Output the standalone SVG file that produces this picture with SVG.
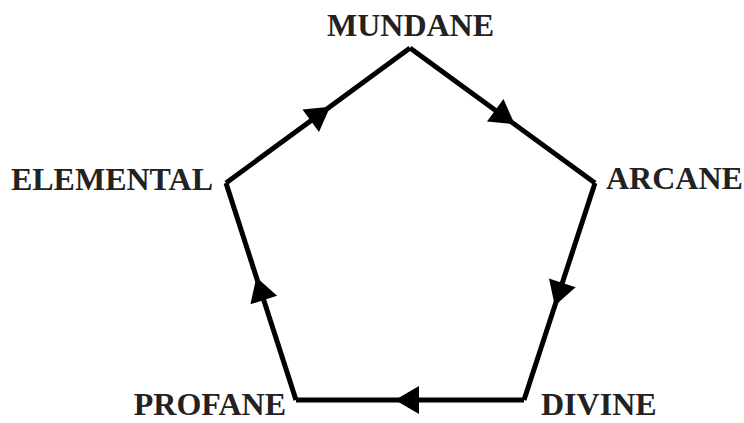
<svg xmlns="http://www.w3.org/2000/svg" width="744" height="423" viewBox="0 0 744 423">
<style>
.lbl{font-family:"Liberation Serif","Times New Roman",serif;font-weight:bold;font-size:32px;fill:#222}
.edge{fill:none;stroke:#000;stroke-width:5;stroke-linejoin:miter;marker-mid:url(#arr)}
</style>
<defs>
<marker id="arr" markerUnits="userSpaceOnUse" markerWidth="40" markerHeight="40" refX="20" refY="20" orient="auto" overflow="visible">
<polygon points="35,20 11,6 11,34" fill="#000"/>
</marker>
</defs>
<rect width="744" height="423" fill="#fff"/>
<g id="connectors">
<path class="edge" d="M226,183 L318,115.5 L410,48"/>
<path class="edge" d="M410,48 L502.5,115.5 L595,183"/>
<path class="edge" d="M595,183 L559.5,291.5 L524,400"/>
<path class="edge" d="M524,400 L410,400 L296,400"/>
<path class="edge" d="M296,400 L261,291.5 L226,183"/>
</g>
<g id="mundane"><text class="lbl" x="410.5" y="36" text-anchor="middle">MUNDANE</text></g>
<g id="arcane"><text class="lbl" x="606" y="189">ARCANE</text></g>
<g id="divine"><text class="lbl" x="541" y="415">DIVINE</text></g>
<g id="profane"><text class="lbl" x="286" y="415" text-anchor="end">PROFANE</text></g>
<g id="elemental"><text class="lbl" x="213" y="190" text-anchor="end">ELEMENTAL</text></g>
</svg>
